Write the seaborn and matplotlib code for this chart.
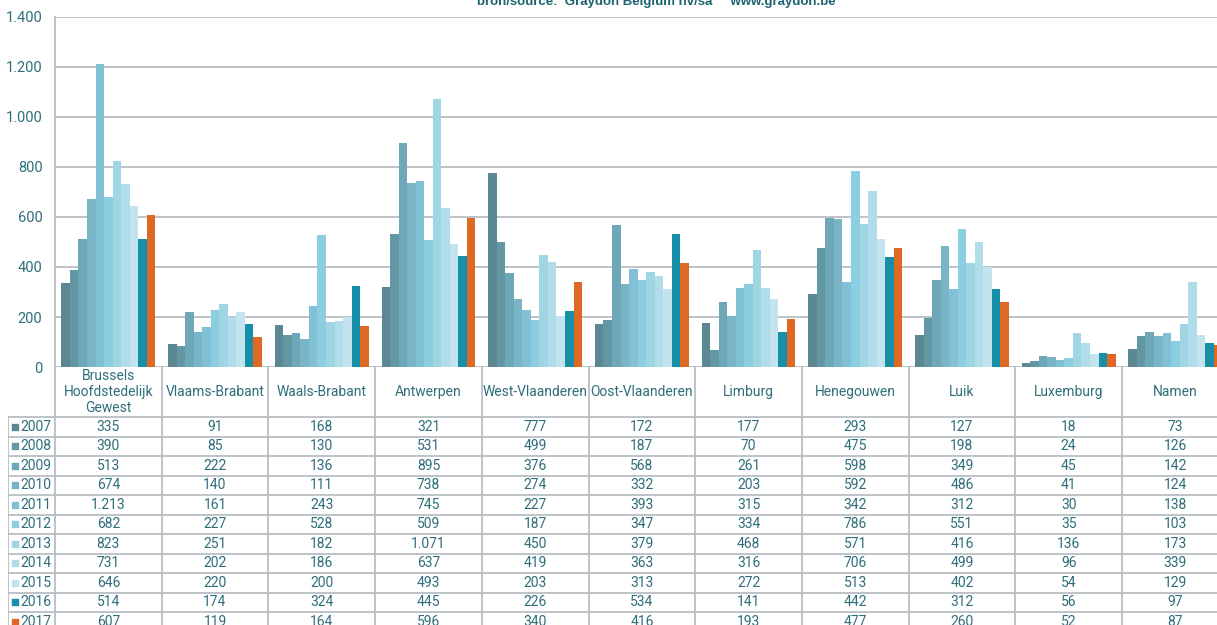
import pandas as pd
import matplotlib
matplotlib.use("Agg")
import matplotlib.pyplot as plt
import seaborn as sns

# --- data ---
provinces = ["Brussels\nHoofdstedelijk\nGewest", "Vlaams-Brabant", "Waals-Brabant",
             "Antwerpen", "West-Vlaanderen", "Oost-Vlaanderen", "Limburg",
             "Henegouwen", "Luik", "Luxemburg", "Namen"]
years = ["2007", "2008", "2009", "2010", "2011", "2012",
         "2013", "2014", "2015", "2016", "2017"]

v2007 = [335, 91, 168, 321, 777, 172, 177, 293, 127, 18, 73]
v2008 = [390, 85, 130, 531, 499, 187, 70, 475, 198, 24, 126]
v2009 = [513, 222, 136, 895, 376, 568, 261, 598, 349, 45, 142]
v2010 = [674, 140, 111, 738, 274, 332, 203, 592, 486, 41, 124]
v2011 = [1213, 161, 243, 745, 227, 393, 315, 342, 312, 30, 138]
v2012 = [682, 227, 528, 509, 187, 347, 334, 786, 551, 35, 103]
v2013 = [823, 251, 182, 1071, 450, 379, 468, 571, 416, 136, 173]
v2014 = [731, 202, 186, 637, 419, 363, 316, 706, 499, 96, 339]
v2015 = [646, 220, 200, 493, 203, 313, 272, 513, 402, 54, 129]
v2016 = [514, 174, 324, 445, 226, 534, 141, 442, 312, 56, 97]
v2017 = [607, 119, 164, 596, 340, 416, 193, 477, 260, 52, 87]
series = [v2007, v2008, v2009, v2010, v2011, v2012,
          v2013, v2014, v2015, v2016, v2017]

colors = ["#5b8893", "#6497a4", "#6ea7b8", "#79b4c7", "#82c1d5", "#8bcde1",
          "#a0d5e4", "#b1dcea", "#c3e3ee", "#1590a8", "#e06825"]

txt = "#2e6e7a"
line = "#b7bec2"

rows = []
for y, vals in zip(years, series):
    for p, v in zip(provinces, vals):
        rows.append({"provincie": p, "jaar": y, "aantal": v})
df = pd.DataFrame(rows)

def fmt(v):
    return f"{v:,}".replace(",", ".")

sns.set_theme(style="white")
plt.rcParams["font.family"] = ["Roboto", "DejaVu Sans"]

W, H = 1217, 625
fig = plt.figure(figsize=(W / 100, H / 100), dpi=100)

# pixel geometry
x0, top, base = 55, 17, 367
cell = 106.7
xmax = -0.5 + (W - x0) / cell

ax = fig.add_axes([x0 / W, 1 - base / H, (W - x0) / W, (base - top) / H])
sns.barplot(data=df, x="provincie", y="aantal", hue="jaar", palette=colors,
            width=0.88, saturation=1, linewidth=0, ax=ax, legend=False)
ax.set_xlim(-0.5, xmax)
ax.set_ylim(0, 1400)
ax.set_yticks(range(0, 1401, 200))
ax.set_yticklabels([fmt(t) for t in range(0, 1401, 200)], color=txt, fontsize=10.5)
ax.set_xticks([])
ax.set_xlabel("")
ax.set_ylabel("")
ax.yaxis.grid(True, color=line, linewidth=1.3)
ax.set_axisbelow(True)
for s in ["top", "right", "bottom"]:
    ax.spines[s].set_visible(False)
ax.spines["left"].set_color(line)
ax.spines["left"].set_linewidth(1.3)
ax.tick_params(axis="y", length=0, pad=9)

# --- data table below ---
tl = 8
tax = fig.add_axes([tl / W, 0, (W - tl) / W, (H - base) / H])
tax.set_xlim(-0.5 - (x0 - tl) / cell, xmax)
tax.set_ylim(H - base, 0)
tax.axis("off")
hdr, rh = 50, 19.5
lab_left = -0.5 - (x0 - tl) / cell

# vertical lines
for i in range(len(provinces) + 1):
    tax.plot([i - 0.5, i - 0.5], [0, H], color=line, lw=1.3, clip_on=False)
tax.plot([lab_left, lab_left], [hdr, H], color=line, lw=1.3)
# horizontal lines
for r in range(len(years) + 1):
    yy = hdr + r * rh
    tax.plot([lab_left, xmax], [yy, yy], color=line, lw=1.3)

for i, p in enumerate(provinces):
    tax.text(i, hdr / 2, p, ha="center", va="center", color=txt,
             fontsize=10, linespacing=1.2)

for r, (y, vals, c) in enumerate(zip(years, series, colors)):
    yc = hdr + (r + 0.5) * rh
    tax.scatter([lab_left + 0.07], [yc], marker="s", s=22, color=c)
    tax.text(lab_left + 0.12, yc, y, ha="left", va="center", color=txt, fontsize=10)
    for i, v in enumerate(vals):
        tax.text(i, yc, fmt(v), ha="center", va="center", color=txt, fontsize=10)

fig.text(656 / W, 1 - 2 / H, "bron/source:  Graydon Belgium nv/sa     www.graydon.be",
         ha="center", va="center", color="#1d6470", fontsize=9.5,
         fontweight="bold", family=["Liberation Sans", "DejaVu Sans"])

fig.savefig("out.png", dpi=100)
